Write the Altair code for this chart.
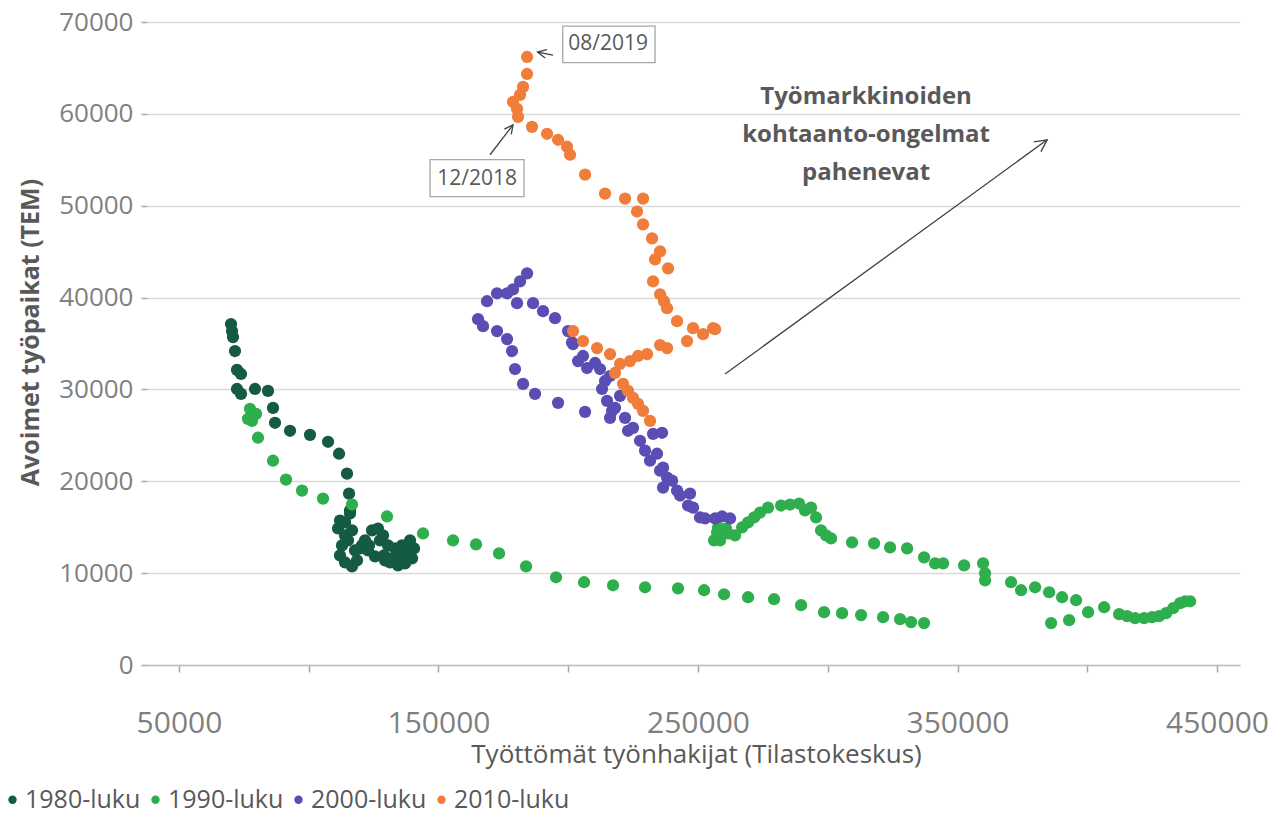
import altair as alt
import pandas as pd

decades = ["1980-luku", "1990-luku", "2000-luku", "2010-luku"]
colors = ["#155b43", "#2fae4e", "#5a4db4", "#f07d3a"]

# 1980s
x80 = [70040, 70430, 70810, 71580, 72350, 73900, 72350, 73900, 79290, 84300, 86230, 87000, 92780,
       100490, 107430, 111670, 114750, 115520, 115900,
       115900, 113980, 111280, 113980, 116670, 112820, 112050, 113980, 116670, 118600, 119750,
       121680, 124380, 126690, 128620, 130550, 129010, 132090, 135170, 137480, 139030, 140570,
       139800, 137100, 133240, 129390, 125540, 122840, 120520,
       112050, 115130, 117820, 123220, 127460, 133240, 135940, 138260, 134400, 131320]
y80 = [37110, 36350, 35700, 34180, 32120, 31680, 30050, 29510, 30050, 29840, 27990, 26370, 25500,
       25060, 24300, 23000, 20830, 18660, 16820,
       16490, 15520, 14860, 14110, 14650, 13020, 11940, 11180, 10740, 11390, 12690,
       13560, 14650, 14860, 14110, 13020, 11940, 11610, 11830, 12480, 13560, 12690,
       11610, 11070, 11180, 11390, 11830, 12480, 13020,
       15730, 13560, 12480, 13020, 13560, 12690, 13020, 11720, 10850, 11180]

# 1990s
x90 = [77360, 79680, 76590, 78130, 80450, 86230, 91240, 97400, 105500, 116670, 130160, 144040,
       155600, 164460, 173330, 183740, 195300, 206090, 217260, 229600, 242310, 252340, 260040,
       269290, 279310, 289720, 298580, 305520, 312840, 321320, 327870, 332110, 337120,
       386070, 393010, 400330, 406500, 412280, 415360, 418440, 421910, 425000, 427690, 430390,
       433090, 435790, 437710, 439640,
       395700, 390300, 385300, 379900, 374500, 370650, 360630, 360630, 359860, 352540, 344450,
       337120, 330570, 324020, 317850, 309370, 301280, 297420, 295500, 293570, 288950, 282010,
       277000, 271610, 266980, 261590, 257730, 256190, 258500, 264280, 257350, 260810, 269290,
       273910, 285480, 291250, 299350, 341370]
y90 = [27880, 27340, 26800, 26580, 24740, 22240, 20180, 18990, 18120, 17470, 16170, 14320,
       13560, 13130, 12150, 10740, 9550, 9010, 8680, 8460, 8350, 8140, 7700,
       7380, 7160, 6510, 5750, 5640, 5430, 5210, 4990, 4670, 4560,
       4560, 4880, 5750, 6290, 5530, 5320, 5100, 5100, 5210, 5320, 5640,
       6180, 6730, 6940, 6940,
       7050, 7380, 7920, 8460, 8140, 9010, 9220, 9980, 11070, 10850, 11070,
       11720, 12690, 12800, 13240, 13350, 13780, 14650, 16060, 17140, 17580, 17360,
       17140, 16060, 14970, 14320, 14970, 13560, 13560, 14110, 14430, 14860, 15520,
       16600, 17470, 16820, 14110, 11070]

# 2000s
x00 = [184120, 181420, 178720, 176410, 172560, 168700, 180260, 186430, 190290, 194910, 199920,
       201850, 203780, 207240, 212250, 216110, 213020, 214950, 218030, 216110, 221890, 224970,
       227670, 232680, 236150, 234220, 236530, 238080, 236530, 241930, 246940, 248100, 250790,
       256570, 262350,
       165230, 167160, 172560, 176410, 178340, 179490, 182580, 187200, 196070, 206480,
       201460, 205700, 210330, 214180, 219960, 216880, 223040, 229600, 231520, 235380, 240000,
       243090, 246170, 252720, 259270]
y00 = [42640, 41770, 40900, 40470, 40470, 39600, 39390, 39390, 38520, 37760, 36350,
       34940, 33090, 32330, 32220, 31460, 30050, 28750, 27990, 26910, 26910, 25820,
       24410, 25170, 25280, 23000, 21480, 20400, 19310, 18990, 18660, 17140, 16060,
       15950, 15950,
       37650, 36890, 36350, 35480, 34180, 32220, 30600, 29510, 28540, 27560,
       35120, 33640, 32880, 30920, 29300, 27670, 25500, 23330, 22240, 21160, 20070,
       18450, 17360, 15950, 16170]

# 2010s
x10 = [184120, 184120, 182580, 181420, 178720, 180260, 180650, 186050, 191830, 196070, 199530,
       200690, 206480, 214180, 221890, 228830, 226510, 228830, 232290, 235380, 238460, 233450,
       232680, 235380, 236910, 238080, 241930, 248100, 255800, 256570, 251950, 245780, 238080,
       235380, 230370, 226900, 223810, 219960, 216110, 211100, 205700, 201850, 221120, 218030,
       223040, 224970, 226900, 228830, 231520]
y10 = [66190, 64340, 62930, 62060, 61300, 60540, 59680, 58590, 57830, 57180, 56420,
       55550, 53380, 51320, 50780, 50780, 49370, 47960, 46440, 45030, 43180, 44160,
       41770, 40360, 39600, 38840, 37430, 36670, 36670, 36560, 36020, 35260, 34500,
       34830, 33850, 33640, 33090, 32770, 33850, 34500, 35260, 36350, 30600, 31790,
       29840, 29080, 28430, 27670, 26580]

# annotations
box_text = ["08/2019", "12/2018"]
box_tx = [215340, 164850]
box_ty = [67600, 52950]
box_x0 = [197880, 146740]
box_x1 = [233450, 182960]
box_y0 = [65570, 50990]
box_y1 = [69550, 55010]

arr_x0 = [194140, 169860, 260430]
arr_y0 = [66400, 55550, 31680]
arr_x1 = [188170, 178720, 384530]
arr_y1 = [66730, 58810, 57180]
arr_ang = [192, 307, 324]
arr_size = [300, 300, 576]

note_text = "Työmarkkinoiden\nkohtaanto-ongelmat\npahenevat"
note_x = [314770]
note_y = [61850]

rows = []
for name, xs_, ys_ in zip(decades, [x80, x90, x00, x10], [y80, y90, y00, y10]):
    for a, b in zip(xs_, ys_):
        rows.append({"dec": name, "u": a, "v": b})
df = pd.DataFrame(rows)
df["ord"] = range(len(df))

boxes = pd.DataFrame({"t": box_text, "x": box_tx, "y": box_ty,
                      "x0": box_x0, "x1": box_x1, "y0": box_y0, "y1": box_y1})
arrows = pd.DataFrame({"x": arr_x0, "y": arr_y0, "x2": arr_x1, "y2": arr_y1,
                       "ang": arr_ang, "sz": arr_size})
note = pd.DataFrame({"x": note_x, "y": note_y, "t": [note_text]})

FONT = "Open Sans"
xs = alt.Scale(domain=[37670, 458860], nice=False, zero=False)
ys = alt.Scale(domain=[0, 70000], nice=False)

x_axis = alt.Axis(
    values=list(range(50000, 450001, 50000)), format="d",
    labelExpr="datum.value % 100000 == 50000 ? datum.label : ''",
    grid=False, domain=True, domainColor="#bfbfbf", domainWidth=1.5,
    ticks=True, tickColor="#a6a6a6", tickSize=7, tickWidth=1.5,
    labelFont=FONT, labelFontSize=30, labelColor="#7f7f7f",
    labelBaseline="alphabetic", labelPadding=60, labelFlush=False, labelOverlap=False,
    title="Työttömät työnhakijat (Tilastokeskus)", titleFont=FONT, titleFontSize=26,
    titleFontWeight="normal", titleColor="#595959", titleX=549, titleY=97,
    titleBaseline="alphabetic", titleAlign="center",
)
y_axis = alt.Axis(
    values=list(range(0, 70001, 10000)), format="d",
    grid=True, gridColor="#d9d9d9", gridWidth=1.5, domain=False,
    ticks=True, tickColor="#a6a6a6", tickSize=6, tickWidth=1.5,
    labelFont=FONT, labelFontSize=26, labelColor="#808080", labelPadding=8,
    title="Avoimet työpaikat (TEM)", titleFont=FONT, titleFontSize=25,
    titleFontWeight="bold", titleColor="#595959", titleX=-117, titleY=310,
    titleAngle=270, titleAlign="center", titleBaseline="middle",
)


def X(f):
    return alt.X(f, scale=xs, axis=x_axis)


def Y(f):
    return alt.Y(f, scale=ys, axis=y_axis)


points = alt.Chart(df).mark_circle(size=150, opacity=1).encode(
    x=X("u:Q"),
    y=Y("v:Q"),
    color=alt.Color("dec:N", scale=alt.Scale(domain=decades, range=colors),
                    legend=alt.Legend(title=None, orient="none", legendX=-147, legendY=765,
                                      direction="horizontal", symbolType="circle",
                                      symbolSize=70, symbolStrokeWidth=0,
                                      labelFont=FONT, labelFontSize=25, labelColor="#595959",
                                      labelOffset=0, columnPadding=2, padding=0)),
    order=alt.Order("ord:Q"),
)

rules = alt.Chart(arrows).mark_rule(color="#404040", strokeWidth=1.3).encode(
    x=X("x:Q"), y=Y("y:Q"), x2="x2:Q", y2="y2:Q",
)
heads = alt.Chart(arrows).mark_point(
    shape="M -1 -0.5 L 0 0 L -1 0.5", filled=False, color="#404040", strokeWidth=1.3, opacity=1
).encode(
    x=X("x2:Q"), y=Y("y2:Q"),
    angle=alt.Angle("ang:Q", scale=None), size=alt.Size("sz:Q", scale=None),
)
rects = alt.Chart(boxes).mark_rect(fill="white", stroke="#a6a6a6", strokeWidth=1.3).encode(
    x=X("x0:Q"), x2="x1:Q", y=Y("y0:Q"), y2="y1:Q",
)
box_labels = alt.Chart(boxes).mark_text(font=FONT, fontSize=21, color="#595959",
                                        align="center", baseline="middle").encode(
    x=X("x:Q"), y=Y("y:Q"), text="t:N",
)
note_mark = alt.Chart(note).mark_text(font=FONT, fontSize=24, fontWeight="bold", color="#595959",
                                      align="center", baseline="middle", lineBreak="\n",
                                      lineHeight=38).encode(
    x=X("x:Q"), y=Y("y:Q"), text="t:N",
)

chart = alt.layer(points, rules, heads, rects, box_labels, note_mark).properties(
    width=1093, height=643,
    autosize=alt.AutoSizeParams(type="none"),
    padding={"left": 139, "top": 14, "right": 30, "bottom": 150},
).configure_view(stroke=None)

chart.save("out.html", embed_options={"renderer": "svg", "actions": False})
